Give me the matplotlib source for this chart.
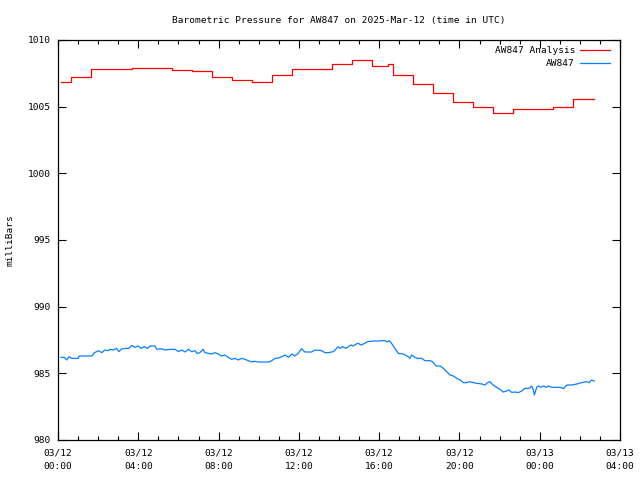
import matplotlib
matplotlib.use("Agg")
import matplotlib.pyplot as plt
import matplotlib.dates as mdates
import numpy as np
from datetime import datetime, timedelta

title = "Barometric Pressure for AW847 on 2025-Mar-12 (time in UTC)"
ylabel = "milliBars"
start = datetime(2025, 3, 12, 0, 0)

# Analysis (step) series: minutes after 2025-03-12 00:00, value in mbar
analysis_min = [9, 40, 100, 220, 340, 400, 460, 520, 580, 640, 700, 820, 880,
                940, 985, 1000, 1060, 1120, 1180, 1240, 1300, 1360, 1480, 1540, 1602]
analysis_val = [1006.83, 1007.20, 1007.80, 1007.87, 1007.73, 1007.65, 1007.20,
                1006.98, 1006.83, 1007.37, 1007.80, 1008.18, 1008.47, 1008.05,
                1008.18, 1007.37, 1006.70, 1006.03, 1005.35, 1004.95, 1004.52,
                1004.80, 1004.95, 1005.55, 1005.55]

# Observed series
obs_min = [9, 19, 26, 33, 41, 61, 63, 101, 109, 121, 131, 140, 150, 155, 165,
           175, 182, 190, 205, 212, 220, 230, 240, 248, 258, 268, 275, 290, 295,
           310, 320, 335, 350, 360, 370, 380, 390, 400, 410, 415, 424, 434, 439,
           449, 459, 469, 479, 489, 499, 509, 519, 529, 539, 549, 559, 569, 579,
           589, 599, 609, 629, 639, 649, 659, 669, 679, 689, 699, 708, 718, 728,
           738, 758, 768, 788, 798, 808,
           823, 833, 838, 843, 851, 861, 868, 875, 883, 891, 898, 905, 913, 925,
           943, 958, 968, 978, 983, 991, 997, 1007, 1017, 1032, 1047, 1052, 1057,
           1067, 1074, 1087, 1097, 1112, 1120, 1130, 1142, 1152, 1162, 1172, 1182,
           1192, 1202, 1212, 1222, 1230, 1242, 1252, 1267, 1277, 1281, 1291, 1301,
           1311, 1321, 1331, 1341, 1348, 1356, 1366, 1376, 1386, 1396, 1409, 1416,
           1421, 1424, 1431, 1436, 1443, 1451, 1459, 1466, 1476, 1491, 1501, 1511,
           1521, 1536, 1551, 1565, 1580, 1588, 1595, 1603]
obs_val = [986.20, 986.20, 986.00, 986.25, 986.125, 986.125, 986.30, 986.30,
           986.55, 986.70, 986.55, 986.75, 986.70, 986.80, 986.75, 986.875,
           986.625, 986.825, 986.875, 986.875, 987.10, 986.95, 987.05, 986.875,
           987.00, 986.875, 987.05, 987.05, 986.80, 986.85, 986.75, 986.80,
           986.80, 986.625, 986.75, 986.60, 986.80, 986.625, 986.70, 986.50,
           986.55, 986.80, 986.55, 986.50, 986.45, 986.55, 986.45, 986.30,
           986.375, 986.20, 986.05, 986.125, 986.00, 986.125, 986.05, 985.95,
           985.85, 985.90, 985.85, 985.85, 985.85, 985.95, 986.125, 986.15,
           986.25, 986.375, 986.20, 986.45, 986.30, 986.50, 986.85, 986.60,
           986.60, 986.75, 986.70, 986.55, 986.55,
           986.625, 986.875, 987.00, 986.875, 987.00, 986.875, 987.00, 987.125,
           987.05, 987.20, 987.25, 987.125, 987.20, 987.375, 987.425, 987.425,
           987.45, 987.45, 987.35, 987.45, 987.25, 986.875, 986.50, 986.45,
           986.25, 986.125, 986.375, 986.20, 986.125, 986.125, 985.95, 985.95,
           985.875, 985.55, 985.55, 985.375, 985.125, 984.875, 984.80, 984.625,
           984.50, 984.30, 984.30, 984.375, 984.30, 984.25, 984.20, 984.125,
           984.25, 984.375, 984.125, 983.95, 983.80, 983.60, 983.675, 983.75,
           983.575, 983.60, 983.55, 983.675, 983.875, 983.875, 984.05, 983.75,
           983.375, 983.95, 984.05, 983.95, 984.05, 983.95, 984.05, 983.95,
           983.95, 983.95, 983.85, 984.125, 984.125, 984.20, 984.30, 984.375,
           984.30, 984.50, 984.425]

legend_labels = ["AW847 Analysis", "AW847"]
yticks = [980, 985, 990, 995, 1000, 1005, 1010]

a_t = [start + timedelta(minutes=m) for m in analysis_min]
o_t = [start + timedelta(minutes=m) for m in obs_min]

plt.rcParams['font.family'] = ['DejaVu Sans Mono']
FS = 6.8

fig = plt.figure(figsize=(6.4, 4.8), dpi=100)
ax = fig.add_axes([58/640, 40/480, 562/640, 400/480])

ax.plot(a_t, analysis_val, color='#ff0000', lw=0.9, drawstyle='steps-post',
        label=legend_labels[0])
ax.plot(o_t, obs_val, color='#0a7fff', lw=0.9, label=legend_labels[1])

ax.set_xlim(start, start + timedelta(hours=28))
ax.set_ylim(980, 1010)
ax.set_yticks(yticks)
ax.xaxis.set_major_locator(mdates.HourLocator(byhour=[0, 4, 8, 12, 16, 20]))
ax.xaxis.set_minor_locator(mdates.HourLocator())
ax.xaxis.set_major_formatter(mdates.DateFormatter('%m/%d\n%H:%M'))

ax.tick_params(axis='both', which='major', direction='in', length=6, width=0.8,
               top=True, right=True, labelsize=FS, pad=5, colors='black')
ax.tick_params(axis='x', which='minor', direction='in', length=3, width=0.8,
               top=True, bottom=True)
ax.tick_params(axis='x', which='major', pad=6)
for lbl in ax.get_xticklabels():
    lbl.set_linespacing(1.7)
for s in ax.spines.values():
    s.set_linewidth(0.9)

ax.set_title(title, fontsize=FS, pad=12)
ax.set_ylabel(ylabel, fontsize=FS, labelpad=10)

leg = ax.legend(loc='upper right', bbox_to_anchor=((610 - 58) / 562, 0.984),
                frameon=False, fontsize=FS, markerfirst=False,
                handlelength=3.2, handletextpad=0.5, labelspacing=0.42,
                borderaxespad=0.0, borderpad=0.0)
for t in leg.get_texts():
    t.set_ha('right')

fig.savefig('out.png', dpi=100)
